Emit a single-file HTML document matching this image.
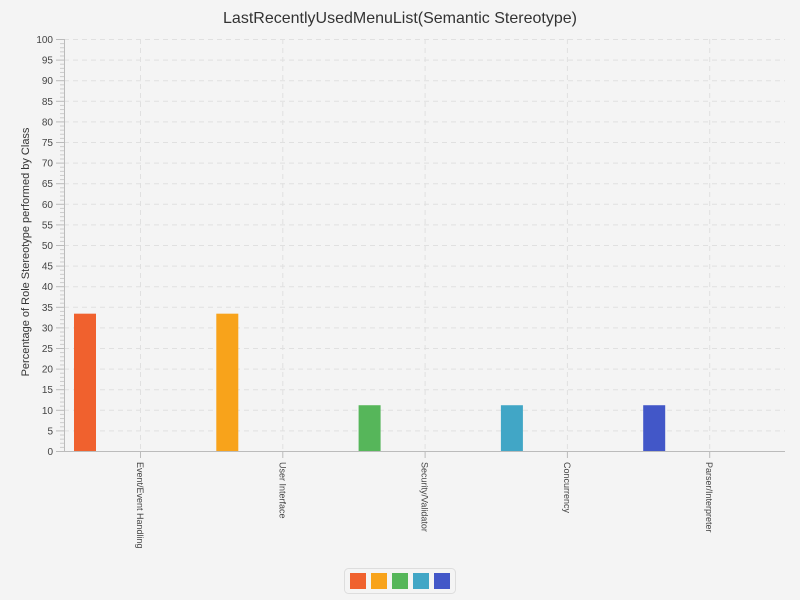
<!DOCTYPE html>
<html><head><meta charset="utf-8"><style>
body{margin:0;background:#f4f4f4;font-family:"Liberation Sans",sans-serif}
svg{display:block}
</style></head><body>
<svg id="chart" width="800" height="600">
<rect width="800" height="600" fill="#f4f4f4"/>
<text x="400" y="23" text-anchor="middle" font-size="16" fill="#333">LastRecentlyUsedMenuList(Semantic Stereotype)</text>
<text transform="translate(29,252) rotate(-90)" text-anchor="middle" font-size="11" fill="#333">Percentage of Role Stereotype performed by Class</text>
<g id="grid"></g><g id="axes"></g><g id="bars"></g>
<g>
<rect x="344.5" y="568.5" width="111" height="25" rx="4" fill="#f4f4f4" stroke="#ddd"/>
<g id="legend"></g>
</g>
</svg>
<script>
const categories=["Event/Event Handling","User Interface","Security/Validator","Concurrency","Parser/Interpreter"];
const values=[33.33,33.33,11.11,11.11,11.11];
const colors=["#f0612e","#f8a31b","#56b65a","#41a6c6","#4257c8"];
const yTicks=[0,5,10,15,20,25,30,35,40,45,50,55,60,65,70,75,80,85,90,95,100];
const NS="http://www.w3.org/2000/svg";
const x0=64,x1=785,yTop=39,yBot=451;
const y=v=>yBot-(v/100)*(yBot-yTop);
const step=142.3, c0=140;
const cx=i=>c0+i*step;
function mk(t,a,p){const e=document.createElementNS(NS,t);for(const k in a)e.setAttribute(k,a[k]);p.appendChild(e);return e;}
const grid=document.getElementById('grid'),axes=document.getElementById('axes'),bars=document.getElementById('bars'),leg=document.getElementById('legend');
yTicks.forEach(v=>{
 if(v>0){const g=mk('line',{x1:x0,x2:x1,y1:y(v)+.5,y2:y(v)+.5,stroke:'#e0e0e0','stroke-dasharray':'5,4'},grid);
 
 }
 mk('line',{x1:56,x2:x0,y1:y(v)+.5,y2:y(v)+.5,stroke:'#bbb'},axes);
 const t=mk('text',{x:53,y:y(v)+4,'text-anchor':'end','font-size':'10',fill:'#444'},axes);t.textContent=v;
 
 
});
for(let v=1;v<100;v++){if(v%5)mk('line',{x1:60,x2:x0,y1:y(v)+.5,y2:y(v)+.5,stroke:'#ccc'},axes);}
categories.forEach((c,i)=>{
 const g=mk('line',{x1:cx(i)+.5,x2:cx(i)+.5,y1:yTop,y2:yBot,stroke:'#e0e0e0','stroke-dasharray':'5,4'},grid);
 
 
 mk('line',{x1:cx(i)+.5,x2:cx(i)+.5,y1:yBot,y2:yBot+7,stroke:'#bbb'},axes);
 const t=mk('text',{transform:`translate(${cx(i)-3},${yBot+11}) rotate(90)`,'font-size':'9',fill:'#444'},axes);t.textContent=c;
 
 
 const b=mk('rect',{x:cx(i)-66,y:y(values[i]),width:22,height:yBot-y(values[i]),fill:colors[i]},bars);
 
 
 const s=mk('rect',{x:350+i*21,y:573,width:16,height:16,fill:colors[i]},leg);
 
 
});
mk('line',{x1:x0+.5,x2:x0+.5,y1:yTop,y2:yBot,stroke:'#bbb'},axes);
mk('line',{x1:x0,x2:x1,y1:yBot+.5,y2:yBot+.5,stroke:'#bbb'},axes);
</script>
</body></html>
